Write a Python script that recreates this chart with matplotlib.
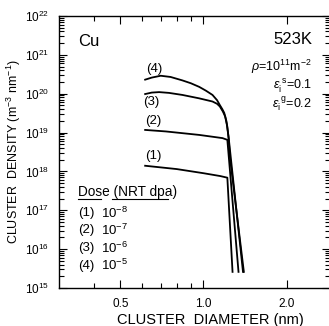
import matplotlib
matplotlib.use('Agg')
import matplotlib.pyplot as plt
from matplotlib.ticker import FixedLocator, FixedFormatter, LogLocator, NullFormatter

plt.rcParams['font.family'] = ['Liberation Sans', 'DejaVu Sans']
plt.rcParams['mathtext.fontset'] = 'custom'
plt.rcParams['mathtext.rm'] = 'Liberation Sans'
plt.rcParams['mathtext.it'] = 'Liberation Sans:italic'

# curves: cluster diameter (nm) vs density (m^-3 nm^-1)
d1 = [0.615, 0.80, 1.00, 1.15, 1.22, 1.274]
n1 = [1.4e18, 1.15e18, 9.0e17, 7.6e17, 6.9e17, 2.6e15]

d2 = [0.615, 0.730, 0.965, 1.172, 1.22, 1.339]
n2 = [1.17e19, 1.07e19, 8.7e18, 7.2e18, 6.5e18, 2.6e15]

d3 = [0.615, 0.65, 0.691, 0.75, 0.839, 0.965, 1.078, 1.12, 1.146, 1.175,
      1.198, 1.215, 1.232, 1.39]
n3 = [9.8e19, 1.07e20, 1.10e20, 1.05e20, 9.3e19, 7.6e19, 6.3e19, 5.5e19,
      4.7e19, 3.5e19, 2.6e19, 1.6e19, 8.0e18, 2.6e15]

d4 = [0.615, 0.65, 0.70, 0.76, 0.839, 0.90, 0.965, 1.02, 1.078, 1.12, 1.146,
      1.17, 1.189, 1.21, 1.22, 1.235, 1.245, 1.40]
n4 = [2.3e20, 2.6e20, 2.9e20, 2.7e20, 2.2e20, 1.86e20, 1.5e20, 1.2e20, 9.3e19,
      6.8e19, 5.1e19, 4.0e19, 3.2e19, 2.0e19, 1.4e19, 6.3e18, 2.5e18, 2.6e15]

xticks = [0.5, 1.0, 2.0]
xticklabels = ['0.5', '1.0', '2.0']
yticks = [1e15, 1e16, 1e17, 1e18, 1e19, 1e20, 1e21, 1e22]
doses = ['8', '7', '6', '5']

W, H = 329, 326
fig = plt.figure(figsize=(W / 100, H / 100), dpi=100)
ax = fig.add_axes([59 / W, 1 - 288 / H, 271 / W, 272 / H])

for d, n in [(d1, n1), (d2, n2), (d3, n3), (d4, n4)]:
    ax.plot(d, n, color='black', lw=1.3, solid_joinstyle='round')

ax.set_xscale('log')
ax.set_yscale('log')
ax.set_xlim(0.3, 2.87)
ax.set_ylim(1e15, 1e22)

ax.xaxis.set_major_locator(FixedLocator(xticks))
ax.xaxis.set_major_formatter(FixedFormatter(xticklabels))
ax.xaxis.set_minor_locator(FixedLocator([0.4, 0.6, 0.7, 0.8, 0.9]))
ax.xaxis.set_minor_formatter(NullFormatter())
ax.yaxis.set_major_locator(FixedLocator(yticks))
ax.yaxis.set_minor_locator(LogLocator(base=10, subs=range(2, 10), numticks=20))
ax.yaxis.set_minor_formatter(NullFormatter())
ax.set_yticklabels([r'$10^{%d}$' % e for e in range(15, 23)])

ax.tick_params(which='both', direction='in', top=True, right=True, width=0.8)
ax.tick_params(which='major', length=6, labelsize=8.5, pad=7)
ax.tick_params(which='minor', length=3.5)
for s in ax.spines.values():
    s.set_linewidth(1.0)


def ft(x, y, s, fs=9, ha='left', va='center', **kw):
    fig.text(x / W, 1 - y / H, s, fontsize=fs, ha=ha, va=va, **kw)


ft(78, 42, 'Cu', 12)
ft(312, 40, '523K', 12, ha='right')
ft(312, 67, r'$\rho$=10$^{11}$m$^{-2}$', 9, ha='right')
ft(312, 86, r'$\varepsilon_{\rm i}^{\ \rm s}$=0.1', 9, ha='right')
ft(312, 104, r'$\varepsilon_{\rm i}^{\ \rm g}$=0.2', 9, ha='right')

ft(154, 69, '(4)', 9.5, ha='center')
ft(151, 102, '(3)', 9.5, ha='center')
ft(153, 121, '(2)', 9.5, ha='center')
ft(153, 156, '(1)', 9.5, ha='center')

ft(78, 192, 'Dose (NRT dpa)', 9.8)
fig.add_artist(plt.Line2D([78 / W, 101 / W], [1 - 199 / H] * 2, color='black', lw=0.8))
fig.add_artist(plt.Line2D([112 / W, 168 / W], [1 - 199 / H] * 2, color='black', lw=0.8))
for i, e in enumerate(doses):
    y = 213 + i * 17.5
    ft(78, y, '(%d)' % (i + 1), 9.5)
    ft(101, y, r'10$^{-%s}$' % e, 9.5)

ft(210, 320, 'CLUSTER  DIAMETER (nm)', 10.5, ha='center')
ft(14, 152, r'CLUSTER  DENSITY (m$^{-3}$ nm$^{-1}$)', 9, ha='center', rotation=90)

fig.savefig('out.png', dpi=100)
